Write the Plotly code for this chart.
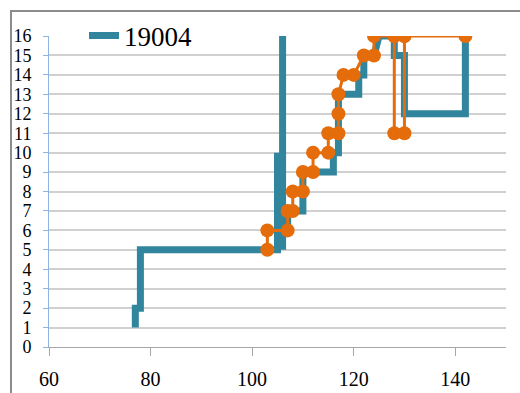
import plotly.graph_objects as go

# Blue series "19004" (step-like path)
blue_x = [77, 77, 78, 78, 105, 105, 105, 106, 106, 106, 106, 107, 107, 110, 110, 116, 116, 117, 117, 121, 121, 122, 122, 124, 125, 128, 128, 130, 130, 142, 142]
blue_y = [1, 2, 2, 5, 5, 10, 6, 6, 16, 5, 6, 6, 7, 7, 9, 9, 10, 10, 13, 13, 14, 14, 15, 15, 16, 16, 15, 15, 12, 12, 16]

# Orange series (with markers, not in legend)
orange_x = [103, 103, 107, 107, 108, 108, 110, 110, 112, 112, 115, 115, 117, 117, 117, 118, 120, 122, 124, 124, 128, 128, 128, 130, 130, 130, 142]
orange_y = [5, 6, 6, 7, 7, 8, 8, 9, 9, 10, 10, 11, 11, 12, 13, 14, 14, 15, 15, 16, 16, 11, 16, 16, 11, 16, 16]

x_ticks = [60, 80, 100, 120, 140]
y_ticks = list(range(0, 17))

BLUE = "#31859C"
ORANGE = "#E46C0A"
FONT = "'Liberation Serif', 'Times New Roman', 'DejaVu Serif', serif"

fig = go.Figure()
fig.add_trace(go.Scatter(
    x=blue_x, y=blue_y, mode="lines", name="19004",
    line=dict(color=BLUE, width=7),
    showlegend=True,
))
fig.add_trace(go.Scatter(
    x=orange_x, y=orange_y, mode="lines+markers", name="orange",
    line=dict(color=ORANGE, width=3),
    marker=dict(color=ORANGE, size=14, symbol="circle"),
    showlegend=False,
))

L, R, T, B = 49, 14, 36, 46
W, H = 520, 393
pw = W - L - R
ph = H - T - B

# outer chart frame (top and left visible)
fig.add_shape(type="rect", xref="paper", yref="paper",
              x0=(11 - L) / pw, x1=(W + 20 - L) / pw,
              y0=-(H + 20 - (H - B)) / ph, y1=((H - B) - 11) / ph,
              line=dict(color="#8C8C8C", width=2), fillcolor="rgba(0,0,0,0)",
              layer="below")

fig.update_layout(
    width=W, height=H,
    margin=dict(l=L, r=R, t=T, b=B, autoexpand=False),
    paper_bgcolor="white", plot_bgcolor="white",
    font=dict(family=FONT, color="black"),
    legend=dict(
        x=(84 - L) / pw, y=1.0, xanchor="left", yanchor="middle",
        bgcolor="rgba(0,0,0,0)", font=dict(family=FONT, size=27, color="black"),
        itemwidth=30,
    ),
    xaxis=dict(
        range=[60, 150], tickvals=x_ticks, ticktext=[str(v) for v in x_ticks],
        showgrid=False, zeroline=False, automargin=False,
        showline=True, linecolor="#A6A6A6", linewidth=1,
        ticks="outside", ticklen=8, tickcolor="#A6A6A6",
        tickfont=dict(family=FONT, size=20, color="black"),
        ticklabelstandoff=6,
    ),
    yaxis=dict(
        range=[0, 16], tickvals=y_ticks, ticktext=[str(v) for v in y_ticks],
        showgrid=True, gridcolor="#D0D0D0", gridwidth=1.5,
        zeroline=False, automargin=False,
        showline=True, linecolor="#8EB4E3", linewidth=1,
        ticks="outside", ticklen=5, tickcolor="#8EB4E3",
        tickfont=dict(family=FONT, size=18, color="black"),
        ticklabelstandoff=8,
    ),
)

fig.write_html("out.html", config={"displayModeBar": False},
               post_script="document.body.style.margin='0';document.body.style.overflow='hidden';")
